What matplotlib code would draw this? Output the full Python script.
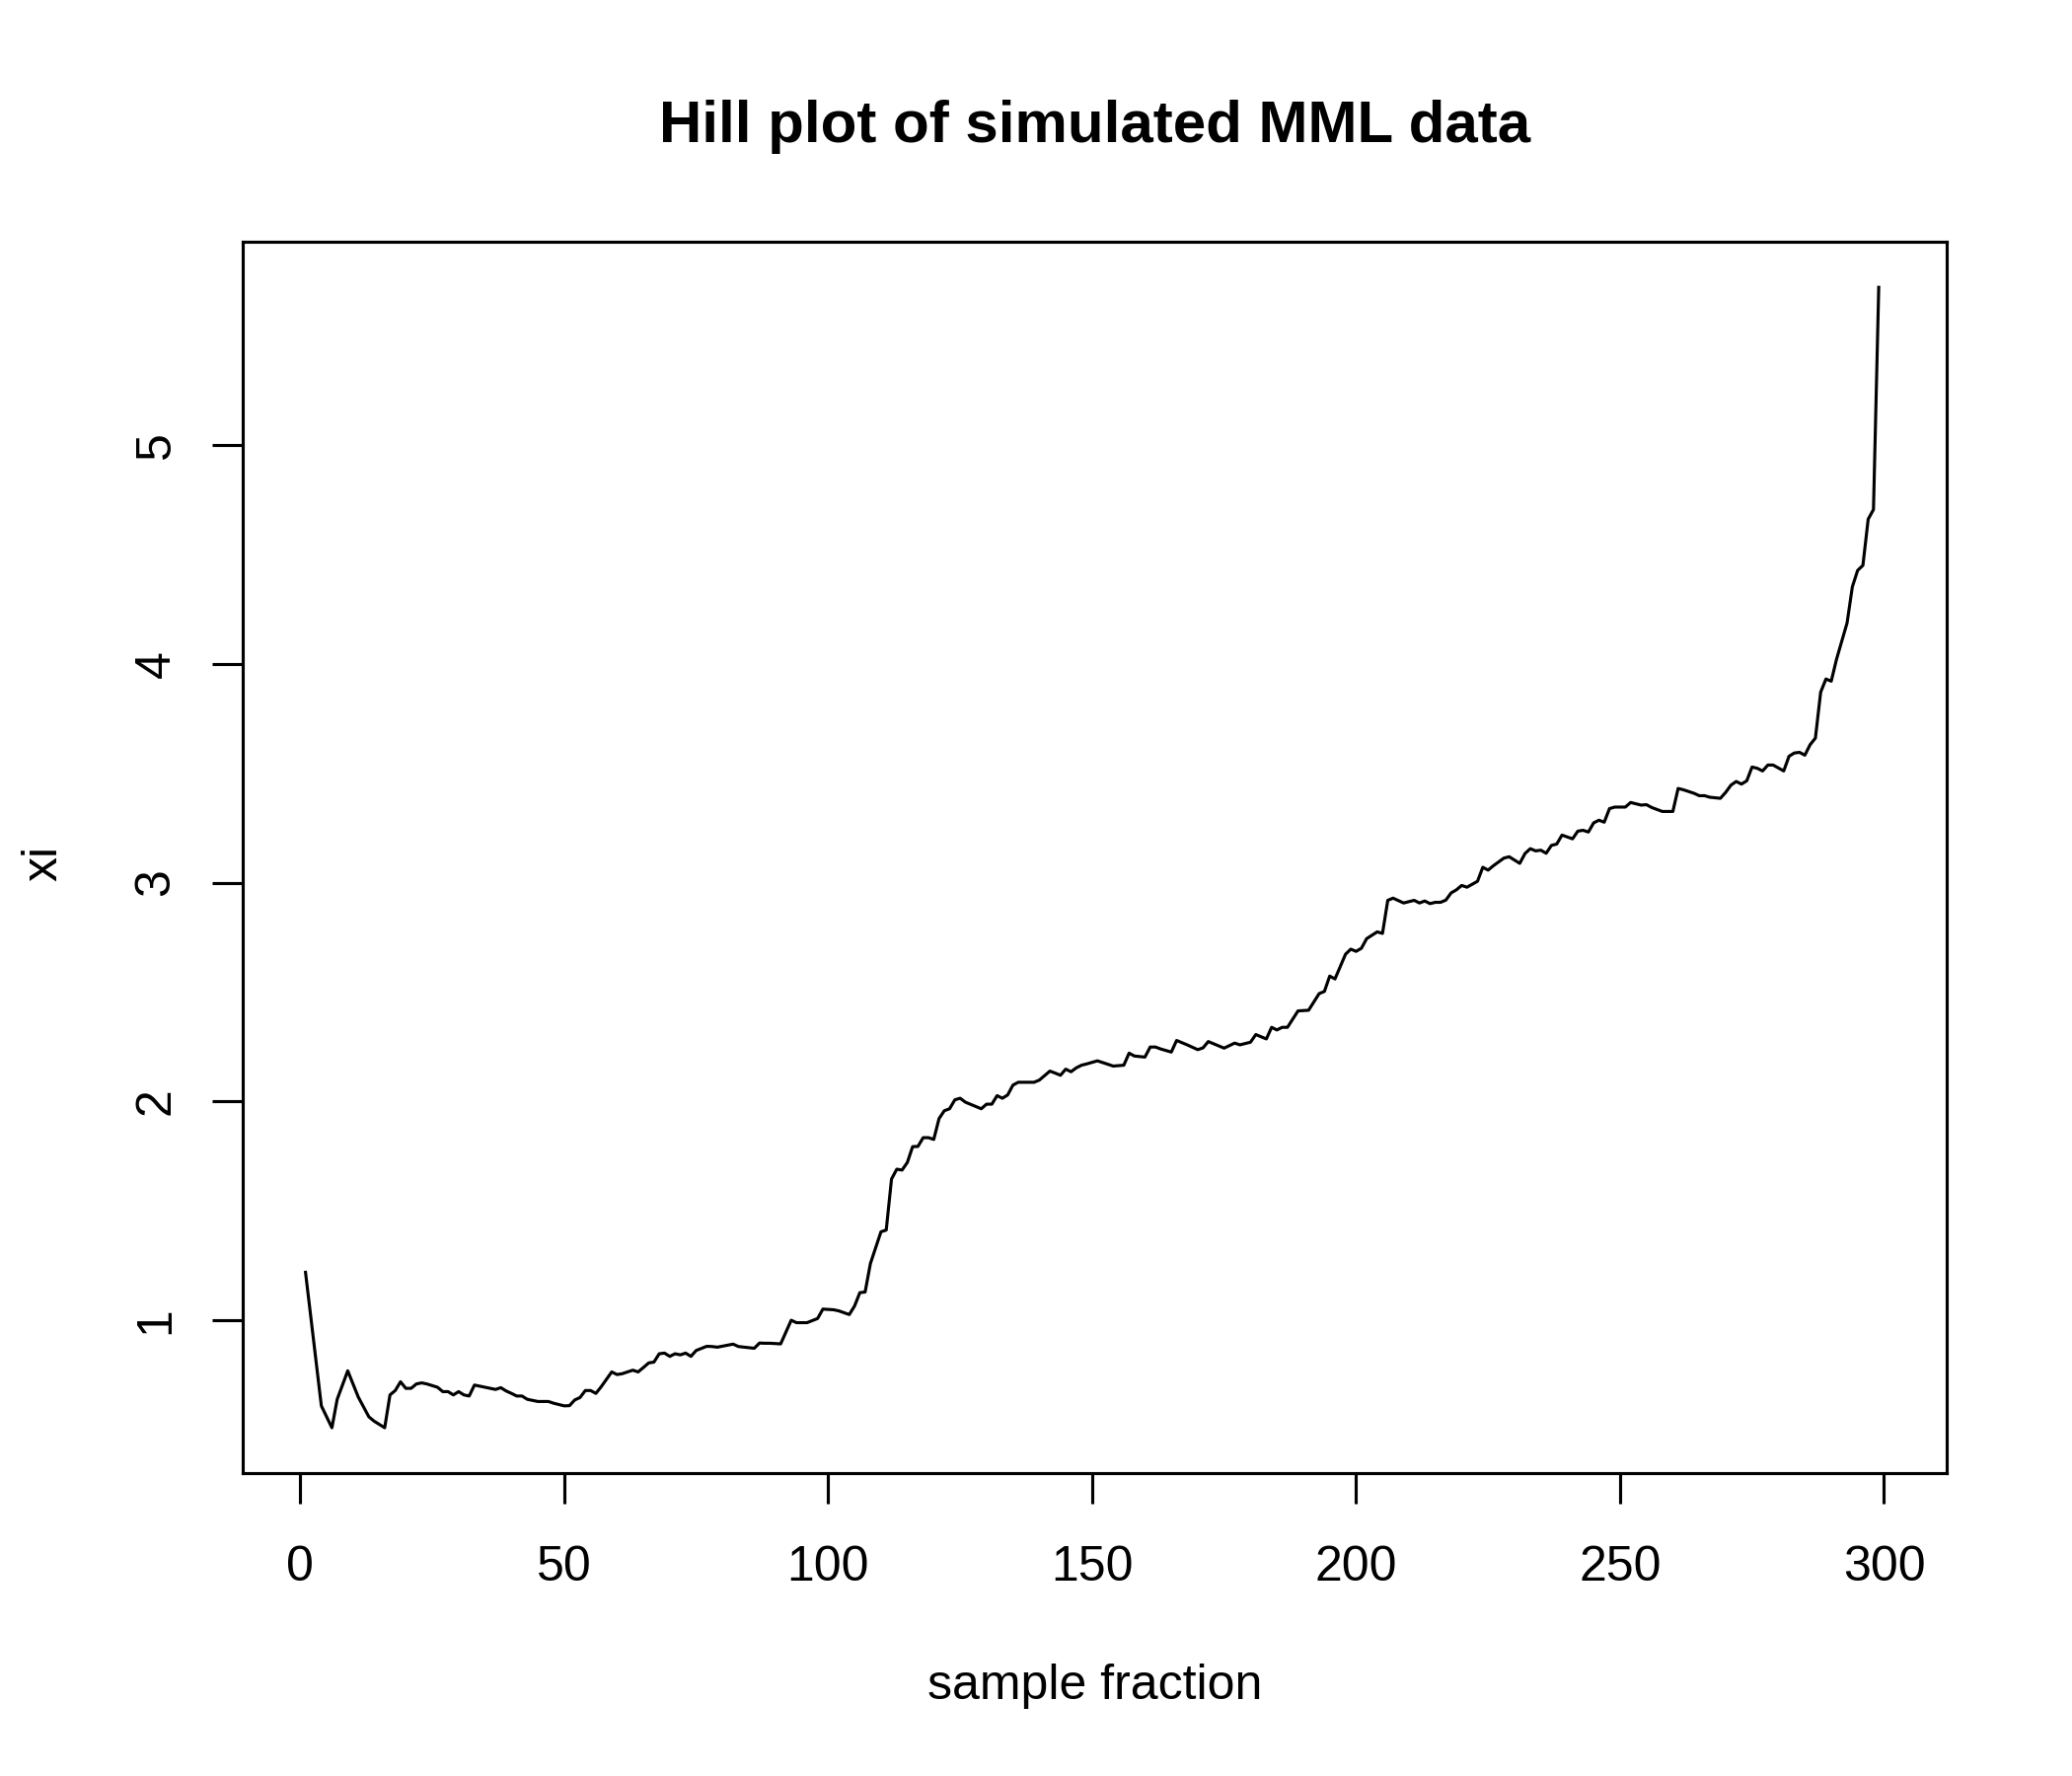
import matplotlib
matplotlib.use("Agg")
import matplotlib.pyplot as plt

# Hill plot values (sample fraction k, xi)
k_vals = [1, 4, 6, 7, 9, 11, 13, 14, 16, 17, 18, 19, 20, 21, 22, 23, 24, 26, 27, 28,
          29, 30, 31, 32, 33, 34, 37, 38, 39, 40, 41, 42, 43, 45, 47, 48, 50, 51, 52, 53,
          54, 55, 56, 57, 59, 60, 61, 63, 64, 65, 66, 67, 68, 69, 70, 71, 72, 73, 74, 75,
          77, 78, 79, 82, 83, 86, 87, 88, 89, 91, 93, 94, 96, 98, 99, 101, 102, 104, 105, 106,
          107, 108, 110, 111, 112, 113, 114, 115, 116, 117, 118, 119, 120, 121, 122, 123, 124, 125, 126, 128,
          129, 130, 131, 132, 133, 134, 135, 136, 139, 140, 142, 143, 144, 145, 146, 147, 148, 149, 151, 152,
          154, 156, 157, 158, 160, 161, 162, 163, 165, 166, 168, 170, 171, 172, 173, 175, 177, 178, 180, 181,
          183, 184, 185, 186, 187, 189, 191, 193, 194, 195, 196, 198, 199, 200, 201, 202, 204, 205, 206, 207,
          209, 211, 212, 213, 214, 215, 216, 217, 218, 219, 220, 221, 223, 224, 225, 226, 228, 229, 231, 232,
          233, 234, 235, 236, 237, 238, 239, 241, 242, 243, 244, 245, 246, 247, 248, 249, 251, 252, 254, 255,
          256, 257, 258, 260, 261, 262, 264, 265, 266, 267, 269, 270, 271, 272, 273, 274, 275, 276, 277, 278,
          279, 281, 282, 283, 284, 285, 286, 287, 288, 289, 290, 291, 293, 294, 295, 296, 297, 298, 299]
xi_vals = [1.22, 0.61, 0.51, 0.64, 0.77, 0.65, 0.56, 0.54, 0.51, 0.66, 0.68, 0.72, 0.69, 0.69, 0.71, 0.715, 0.71, 0.695, 0.675, 0.675,
           0.66, 0.675, 0.66, 0.655, 0.705, 0.70, 0.685, 0.693, 0.678, 0.667, 0.655, 0.655, 0.64, 0.63, 0.63, 0.622, 0.61, 0.611, 0.637, 0.648,
           0.68, 0.68, 0.667, 0.697, 0.765, 0.753, 0.757, 0.773, 0.765, 0.785, 0.806, 0.81, 0.848, 0.851, 0.836, 0.848, 0.843, 0.851, 0.836, 0.863,
           0.882, 0.881, 0.878, 0.892, 0.881, 0.873, 0.897, 0.896, 0.896, 0.893, 1.001, 0.99, 0.99, 1.009, 1.052, 1.049, 1.044, 1.027, 1.066, 1.127,
           1.13, 1.26, 1.405, 1.413, 1.646, 1.691, 1.687, 1.722, 1.794, 1.795, 1.835, 1.835, 1.827, 1.922, 1.958, 1.967, 2.008, 2.015, 1.997, 1.977,
           1.967, 1.988, 1.988, 2.027, 2.015, 2.03, 2.075, 2.088, 2.088, 2.098, 2.139, 2.13, 2.12, 2.148, 2.136, 2.154, 2.166, 2.172, 2.186, 2.178,
           2.162, 2.166, 2.221, 2.208, 2.203, 2.249, 2.249, 2.24, 2.226, 2.279, 2.259, 2.237, 2.245, 2.274, 2.264, 2.244, 2.267, 2.259, 2.271, 2.306,
           2.286, 2.339, 2.327, 2.339, 2.339, 2.414, 2.417, 2.493, 2.503, 2.573, 2.56, 2.673, 2.696, 2.686, 2.70, 2.744, 2.775, 2.768, 2.919, 2.929,
           2.907, 2.919, 2.907, 2.916, 2.904, 2.91, 2.91, 2.92, 2.953, 2.967, 2.987, 2.979, 3.006, 3.07, 3.057, 3.077, 3.112, 3.118, 3.088, 3.133,
           3.155, 3.145, 3.148, 3.134, 3.17, 3.176, 3.217, 3.2, 3.235, 3.239, 3.231, 3.273, 3.285, 3.276, 3.338, 3.345, 3.345, 3.366, 3.354, 3.356,
           3.343, 3.334, 3.325, 3.325, 3.43, 3.424, 3.408, 3.397, 3.397, 3.39, 3.385, 3.412, 3.445, 3.462, 3.45, 3.465, 3.528, 3.522, 3.51, 3.537,
           3.537, 3.51, 3.577, 3.592, 3.595, 3.582, 3.63, 3.66, 3.87, 3.93, 3.92, 4.02, 4.186, 4.351, 4.426, 4.449, 4.66, 4.704, 5.719]

x_ticks = [0, 50, 100, 150, 200, 250, 300]
y_ticks = [1, 2, 3, 4, 5]

plt.rcParams['font.family'] = ['Liberation Sans', 'DejaVu Sans']

fig = plt.figure(figsize=(7, 6), dpi=300)
ax = fig.add_axes([0.117, 0.1704, 0.8226, 0.6935])

ax.plot(k_vals, xi_vals, color="black", linewidth=0.75)
ax.margins(y=0.04)
ax.set_xlim(-10.95, 311.9)

ax.set_xticks(x_ticks)
ax.set_yticks(y_ticks)
ax.tick_params(direction="out", length=7.4, width=0.75, labelsize=12)
ax.tick_params(axis="x", pad=10)
ax.tick_params(axis="y", labelrotation=90, pad=8)
for lab in ax.get_yticklabels():
    lab.set_va("center")
for sp in ax.spines.values():
    sp.set_linewidth(0.75)

fig.text(0.5283, 0.9284, "Hill plot of simulated MML data", ha="center", va="center",
         fontsize=14.4, fontweight="bold")
fig.text(0.5283, 0.0505, "sample fraction", ha="center", va="center", fontsize=12)
fig.text(0.021, 0.5138, "xi", ha="center", va="center", rotation=90, fontsize=12)

fig.savefig("out.png", dpi=300)
